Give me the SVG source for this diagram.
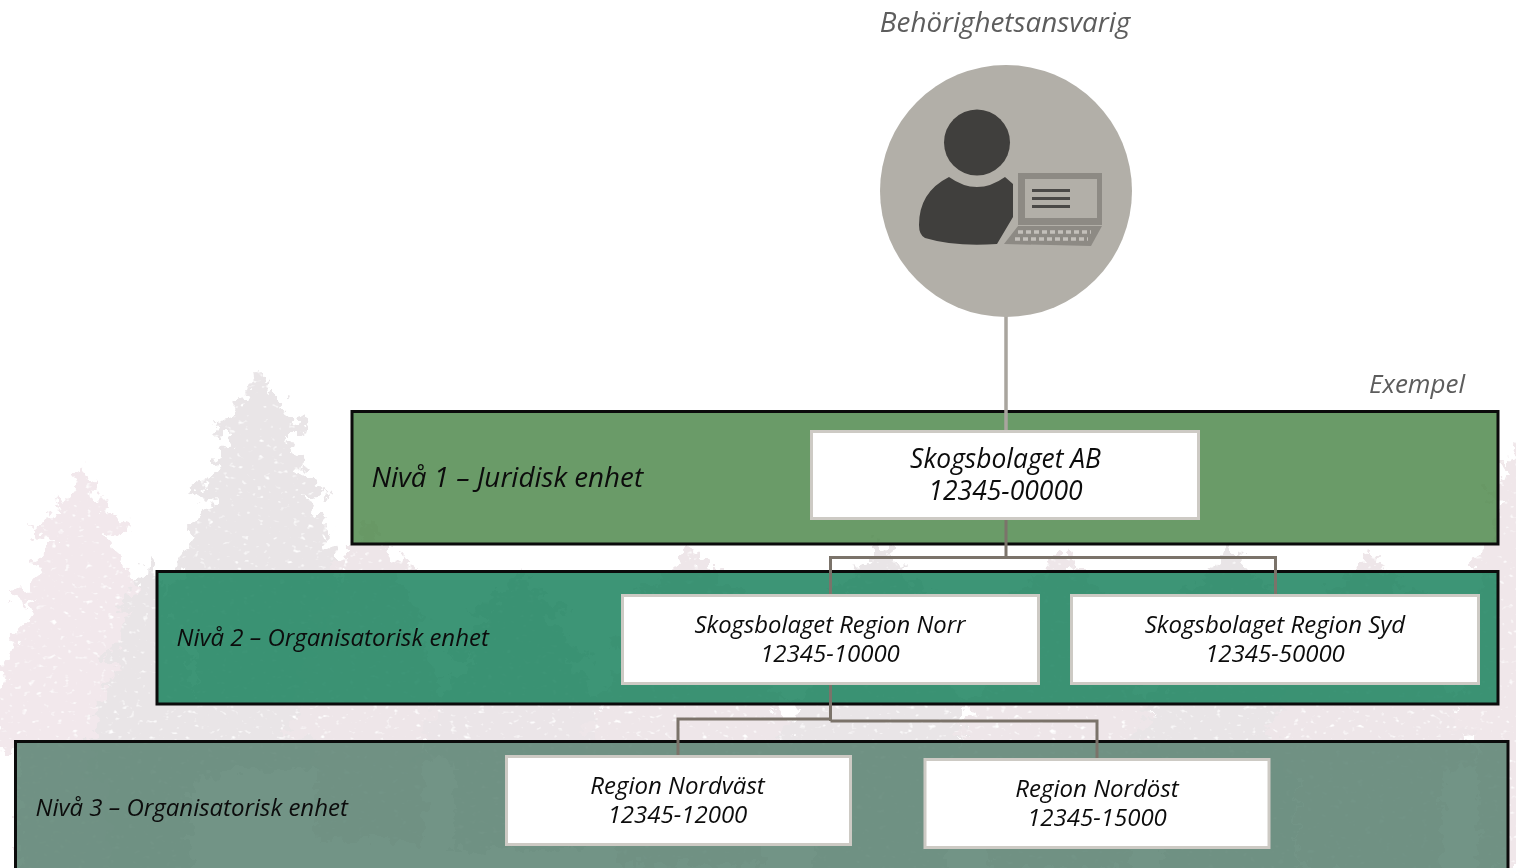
<svg xmlns="http://www.w3.org/2000/svg" xmlns:xlink="http://www.w3.org/1999/xlink" width="1516" height="868" viewBox="0 0 1516 868">
<style>
text{font-family:"Open Sans","Noto Sans","Liberation Sans",sans-serif;font-style:italic;fill:#0c0c0c}
.c{text-anchor:middle}
.g{fill:#5d5d5d}
.band{stroke:#0b0b0b;stroke-width:3;fill-opacity:.86}
.box{fill:#fff;stroke:#cdcac4;stroke-width:3}
.ln{fill:none;stroke:#7b736a;stroke-width:3}
</style>
<defs>
<path id="tree" d="M0 0L5 12L10 8L9 24L16 30L26 30L20 42L34 52L48 58L36 66L24 66L32 80L42 92L38 100L50 112L66 124L52 130L42 128L54 146L68 160L60 168L72 184L84 196L70 200L80 216L94 232L76 236L88 256L100 270L60 275L60 400L-60 400L-60 275L-100 270L-88 256L-76 236L-92 232L-80 214L-70 200L-84 196L-72 182L-60 168L-68 160L-52 144L-42 128L-54 130L-68 122L-50 110L-38 100L-44 90L-32 78L-24 66L-38 66L-48 56L-32 50L-20 42L-26 30L-14 30L-9 24L-8 10z"/>
<filter id="rough" x="-5%" y="-5%" width="110%" height="110%" color-interpolation-filters="sRGB">
<feTurbulence type="fractalNoise" baseFrequency=".09" numOctaves="3" seed="7" result="n"/>
<feDisplacementMap in="SourceGraphic" in2="n" scale="26" xChannelSelector="R" yChannelSelector="G" result="d"/>
<feTurbulence type="fractalNoise" baseFrequency=".14 .2" numOctaves="2" seed="3"/>
<feColorMatrix values="0 0 0 0 0 0 0 0 0 0 0 0 0 0 0 5 0 0 0 -3.250" result="holes"/>
<feComposite in="d" in2="holes" operator="out"/>
</filter>
</defs>
<rect width="1516" height="868" fill="#fff"/>
<g id="forest" filter="url(#rough)">
<g fill="#e9e5e7">
<use xlink:href="#tree" transform="translate(260 369) scale(1.05 1)"/>
<use xlink:href="#tree" transform="translate(82 467) scale(1.05 1.05)" fill="#f2e8ec"/>
<use xlink:href="#tree" transform="translate(150 560) scale(.7 .8)" fill="#e9e5e7"/>
<use xlink:href="#tree" transform="translate(370 520) scale(.9 .8)" fill="#eee6e9"/>
<use xlink:href="#tree" transform="translate(520 570) scale(1.1 .7)" fill="#ebe5e8"/>
<use xlink:href="#tree" transform="translate(690 545) scale(1.2 .8)" fill="#eee6e9"/>
<use xlink:href="#tree" transform="translate(880 540) scale(1.1 .85)"/>
<use xlink:href="#tree" transform="translate(1060 550) scale(1.2 .8)" fill="#eee6e9"/>
<use xlink:href="#tree" transform="translate(1230 545) scale(1.1 .85)"/>
<use xlink:href="#tree" transform="translate(1370 550) scale(1.2 .8)" fill="#eee6e9"/>
<use xlink:href="#tree" transform="translate(1520 430) scale(.7 1.1)" fill="#f0e7ea"/>
</g>
</g>
<g id="level1">
<rect class="band" x="352" y="411.500" width="1146" height="132.500" style="fill:#528a4f"/>
<text x="371.500" y="487" font-size="27.800">Nivå 1 – Juridisk enhet</text>
</g>
<g id="level2">
<rect class="band" x="157" y="571.500" width="1341" height="132.500" style="fill:#1d8360"/>
<text x="176.500" y="646" font-size="24">Nivå 2 – Organisatorisk enhet</text>
</g>
<g id="level3">
<rect class="band" x="15.500" y="741.500" width="1492.500" height="140" style="fill:#5b8272"/>
<text x="35.500" y="816" font-size="24">Nivå 3 – Organisatorisk enhet</text>
</g>
<g id="connectors">
<path class="ln" d="M1006 316V432" style="stroke:#a9a59e;stroke-width:3.500"/>
<path class="ln" d="M1006 519V557.500M830.500 595V557.500H1275.500V595"/>
<path class="ln" d="M830.500 684V721M678 756V719H830.500M830.500 721H1097V759"/>
</g>
<g id="owner">
<text class="c g" x="1005" y="32" font-size="27.800">Behörighetsansvarig</text>
<circle cx="1006" cy="191" r="126" fill="#b2afa8"/>
<circle cx="977" cy="142.500" r="33" fill="#403f3d"/>
<path fill="#403f3d" d="M949 177Q977 197 1005 177L1013 184V217L997 244Q955 247 925 238Q919 235 919 225Q919 192 949 177Z"/>
<path fill="#8d8a84" d="M1018 173H1102V225H1018Z"/>
<rect x="1025" y="179" width="72" height="39" fill="#b2afa8"/>
<path d="M1032 190.500H1070M1032 198.500H1070M1032 206.500H1070" stroke="#4a4947" stroke-width="3"/>
<path fill="#8d8a84" d="M1018 226H1102L1091 246L1004 244Z"/>
<path d="M1018 232H1091M1015 239H1088" stroke="#c3c0ba" stroke-width="3.500" stroke-dasharray="5 3"/>
</g>
<text class="g" x="1369" y="393" font-size="26">Exempel</text>
<g id="ab">
<rect class="box" x="811.500" y="431.500" width="387" height="87"/>
<text class="c" x="1005.500" y="468" font-size="26.400">Skogsbolaget AB</text>
<text class="c" x="1005.500" y="500" font-size="26.500">12345-00000</text>
</g>
<g id="norr">
<rect class="box" x="622.500" y="595.500" width="416" height="88"/>
<text class="c" x="830" y="633" font-size="24" textLength="271" lengthAdjust="spacingAndGlyphs">Skogsbolaget Region Norr</text>
<text class="c" x="830" y="662" font-size="24">12345-10000</text>
</g>
<g id="syd">
<rect class="box" x="1071.500" y="595.500" width="407" height="88"/>
<text class="c" x="1275" y="633" font-size="24">Skogsbolaget Region Syd</text>
<text class="c" x="1275" y="662" font-size="24">12345-50000</text>
</g>
<g id="nordvast">
<rect class="box" x="506.500" y="756.500" width="344" height="88"/>
<text class="c" x="677.500" y="794" font-size="24">Region Nordväst</text>
<text class="c" x="677.500" y="823" font-size="24">12345-12000</text>
</g>
<g id="nordost">
<rect class="box" x="925" y="759.500" width="344" height="88"/>
<text class="c" x="1097" y="797" font-size="24">Region Nordöst</text>
<text class="c" x="1097" y="826" font-size="24">12345-15000</text>
</g>
</svg>
